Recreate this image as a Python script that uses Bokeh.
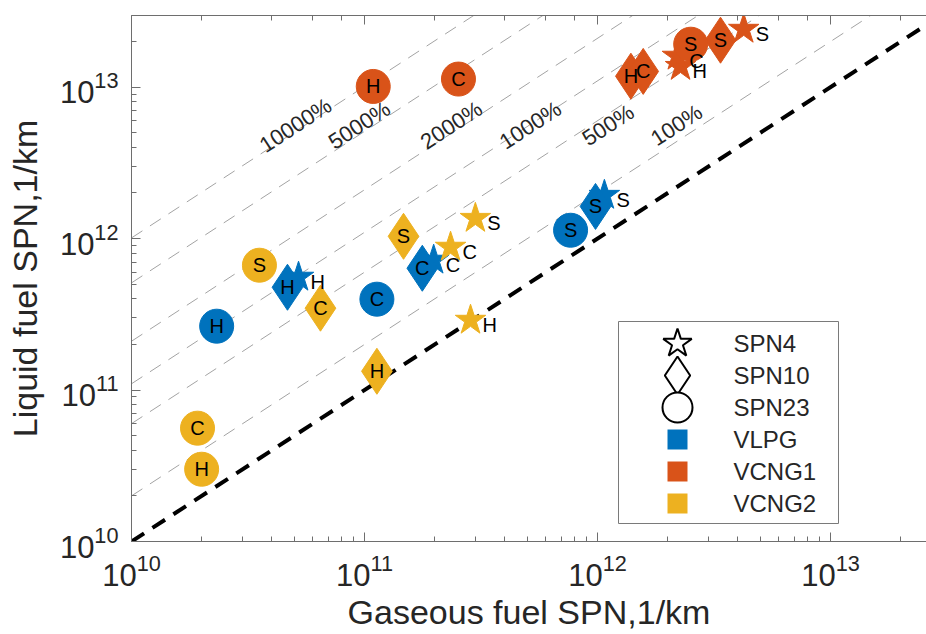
import math
from bokeh.plotting import figure
from bokeh.models import LogAxis, ColumnDataSource, Range1d, LogTicker
from bokeh.core.properties import value
from bokeh.embed import file_html
from bokeh.resources import INLINE

# ---------------- data ----------------
cycles = ["H", "C", "S"]

# VLPG
vlpg_spn4_gas = [5.21e10, 1.98e11, 1.07e12]
vlpg_spn4_liq = [5.56e11, 7.20e11, 1.93e12]
vlpg_spn10_gas = [4.67e10, 1.77e11, 9.80e11]
vlpg_spn10_liq = [4.77e11, 6.37e11, 1.63e12]
vlpg_spn23_gas = [2.32e10, 1.13e11, 7.66e11]
vlpg_spn23_liq = [2.64e11, 3.98e11, 1.135e12]

# VCNG1
vcng1_spn4_gas = [2.27e12, 2.20e12, 4.24e12]
vcng1_spn4_liq = [1.37e13, 1.60e13, 2.41e13]
vcng1_spn10_gas = [1.39e12, 1.57e12, 3.37e12]
vcng1_spn10_liq = [1.18e13, 1.27e13, 2.04e13]
vcng1_spn23_gas = [1.09e11, 2.53e11, 2.51e12]
vcng1_spn23_liq = [1.01e13, 1.13e13, 1.92e13]

# VCNG2
vcng2_spn4_gas = [2.85e11, 2.34e11, 2.99e11]
vcng2_spn4_liq = [2.89e11, 8.77e11, 1.36e12]
vcng2_spn10_gas = [1.13e11, 6.47e10, 1.47e11]
vcng2_spn10_liq = [1.33e11, 3.47e11, 1.035e12]
vcng2_spn23_gas = [2.00e10, 1.92e10, 3.54e10]
vcng2_spn23_liq = [3.00e10, 5.60e10, 6.67e11]

vehicles = ["VLPG", "VCNG1", "VCNG2"]
spn_types = ["SPN4", "SPN10", "SPN23"]

pct_values = [10000, 5000, 2000, 1000, 500, 100]
pct_labels = ["10000%", "5000%", "2000%", "1000%", "500%", "100%"]
pct_label_gas = [5.06e10, 9.5e10, 2.36e11, 5.15e11, 1.11e12, 2.18e12]
pct_label_liq = [5.6e12] * 6

x_lim = [1e10, 2.58e13]
y_lim = [1e10, 2.97e13]

# ---------------- style ----------------
FONT = "Liberation Sans"
TXT = "#262626"
AX = "#6e6e6e"
colors = {"VLPG": "#0072BD", "VCNG1": "#D95319", "VCNG2": "#EDB120"}
markers = {"SPN4": "star", "SPN10": "diamond", "SPN23": "circle"}
msize = {"SPN4": 32, "SPN10": 46, "SPN23": 34}

data = {
    ("VLPG", "SPN4"): (vlpg_spn4_gas, vlpg_spn4_liq),
    ("VLPG", "SPN10"): (vlpg_spn10_gas, vlpg_spn10_liq),
    ("VLPG", "SPN23"): (vlpg_spn23_gas, vlpg_spn23_liq),
    ("VCNG1", "SPN4"): (vcng1_spn4_gas, vcng1_spn4_liq),
    ("VCNG1", "SPN10"): (vcng1_spn10_gas, vcng1_spn10_liq),
    ("VCNG1", "SPN23"): (vcng1_spn23_gas, vcng1_spn23_liq),
    ("VCNG2", "SPN4"): (vcng2_spn4_gas, vcng2_spn4_liq),
    ("VCNG2", "SPN10"): (vcng2_spn10_gas, vcng2_spn10_liq),
    ("VCNG2", "SPN23"): (vcng2_spn23_gas, vcng2_spn23_liq),
}

FW, FH = 795, 526
p = figure(frame_width=FW, frame_height=FH, x_axis_type="log", y_axis_type="log",
           x_range=Range1d(*x_lim), y_range=Range1d(*y_lim),
           output_backend="svg", toolbar_location=None,
           min_border_left=131, min_border_right=0, min_border_top=15,
           min_border_bottom=93)
p.outline_line_color = None
p.xgrid.visible = False
p.ygrid.visible = False


def style_axis(ax):
    ax.axis_line_color = AX
    ax.major_tick_line_color = AX
    ax.minor_tick_line_color = AX
    ax.major_tick_in = 9
    ax.major_tick_out = 0
    ax.minor_tick_in = 5
    ax.minor_tick_out = 0
    ax.major_label_text_font = FONT
    ax.major_label_text_font_size = "31px"
    ax.major_label_text_color = TXT
    ax.axis_label_text_font = FONT
    ax.axis_label_text_font_size = "34px"
    ax.axis_label_text_font_style = "normal"
    ax.axis_label_text_color = TXT


for ax in p.xaxis + p.yaxis:
    style_axis(ax)
p.xaxis.axis_label = "Gaseous fuel SPN,1/km"
p.yaxis.axis_label = "Liquid fuel SPN,1/km"
p.xaxis.major_label_standoff = 12
p.xaxis.axis_label_standoff = 4
p.yaxis.major_label_standoff = 13
p.yaxis.axis_label_standoff = 13

top = LogAxis(ticker=LogTicker())
style_axis(top)
top.major_label_text_font_size = "2px"
top.major_label_text_alpha = 0
top.major_label_standoff = 0
p.add_layout(top, "above")

# reference lines
p.line([x_lim[0], 1e14], [x_lim[0], 1e14], line_color="black", line_width=4,
       line_dash="15 10")
for pct in pct_values:
    r = 1 + pct / 100.0
    p.line([x_lim[0], 1e14], [x_lim[0] * r, 1e14 * r], line_color="#a3a3a3",
           line_width=1, line_dash="13 9")

p.text(x=pct_label_gas, y=pct_label_liq, text=pct_labels, angle=33, angle_units="deg",
       text_font=value(FONT), text_font_size="22px", text_align="center",
       text_baseline="middle", text_color=TXT)

# markers: stars, then diamonds, then circles
for spn in spn_types:
    for veh in vehicles:
        gx, gy = data[(veh, spn)]
        src = ColumnDataSource(dict(x=gx, y=gy, lab=cycles))
        p.scatter("x", "y", source=src, marker=markers[spn], size=msize[spn],
                  fill_color=colors[veh], line_color=colors[veh], line_width=1)

# labels
for spn in spn_types:
    for veh in vehicles:
        gx, gy = data[(veh, spn)]
        src = ColumnDataSource(dict(x=gx, y=gy, lab=cycles))
        if spn == "SPN4":
            p.text("x", "y", text="lab", source=src, x_offset=12, y_offset=5,
                   text_font=value(FONT), text_font_size="20px", text_align="left",
                   text_baseline="middle", text_color="black")
        else:
            p.text("x", "y", text="lab", source=src, text_font=value(FONT),
                   text_font_size="20px", text_align="center",
                   text_baseline="middle", text_color="black")


# ---------------- legend (drawn in frame pixel layout) ----------------
def fx(px):
    a, b = math.log10(x_lim[0]), math.log10(x_lim[1])
    return 10 ** (a + px / FW * (b - a))


def fy(py):
    a, b = math.log10(y_lim[0]), math.log10(y_lim[1])
    return 10 ** (b - py / FH * (b - a))


box_l, box_r, box_t, box_b = 487, 707, 306, 508
icon_x, text_x = 546, 602
rows = [328, 360, 392, 424, 456, 488]

p.quad(left=[fx(box_l)], right=[fx(box_r)], top=[fy(box_t)], bottom=[fy(box_b)],
       fill_color="white", line_color="#7a7a7a", line_width=1)

leg_labels = spn_types + vehicles
leg_marker = [markers[s] for s in spn_types] + ["square"] * 3
leg_size = [30, 38, 30, 20, 20, 20]
leg_fill = ["white"] * 3 + [colors[v] for v in vehicles]
leg_line = ["black"] * 3 + [colors[v] for v in vehicles]
leg_lw = [2, 2, 2, 0, 0, 0]
for lab, mk, sz, fc, lc, lw, ry in zip(leg_labels, leg_marker, leg_size, leg_fill,
                                       leg_line, leg_lw, rows):
    p.scatter([fx(icon_x)], [fy(ry)], marker=mk, size=sz, fill_color=fc,
              line_color=lc, line_width=max(lw, 0.01), line_alpha=1 if lw else 0)
p.text(x=[fx(text_x)] * 6, y=[fy(r) for r in rows], text=leg_labels,
       text_font=value(FONT), text_font_size="24px", text_align="left",
       text_baseline="middle", text_color=TXT)

open("out.html", "w").write(file_html(p, INLINE))
